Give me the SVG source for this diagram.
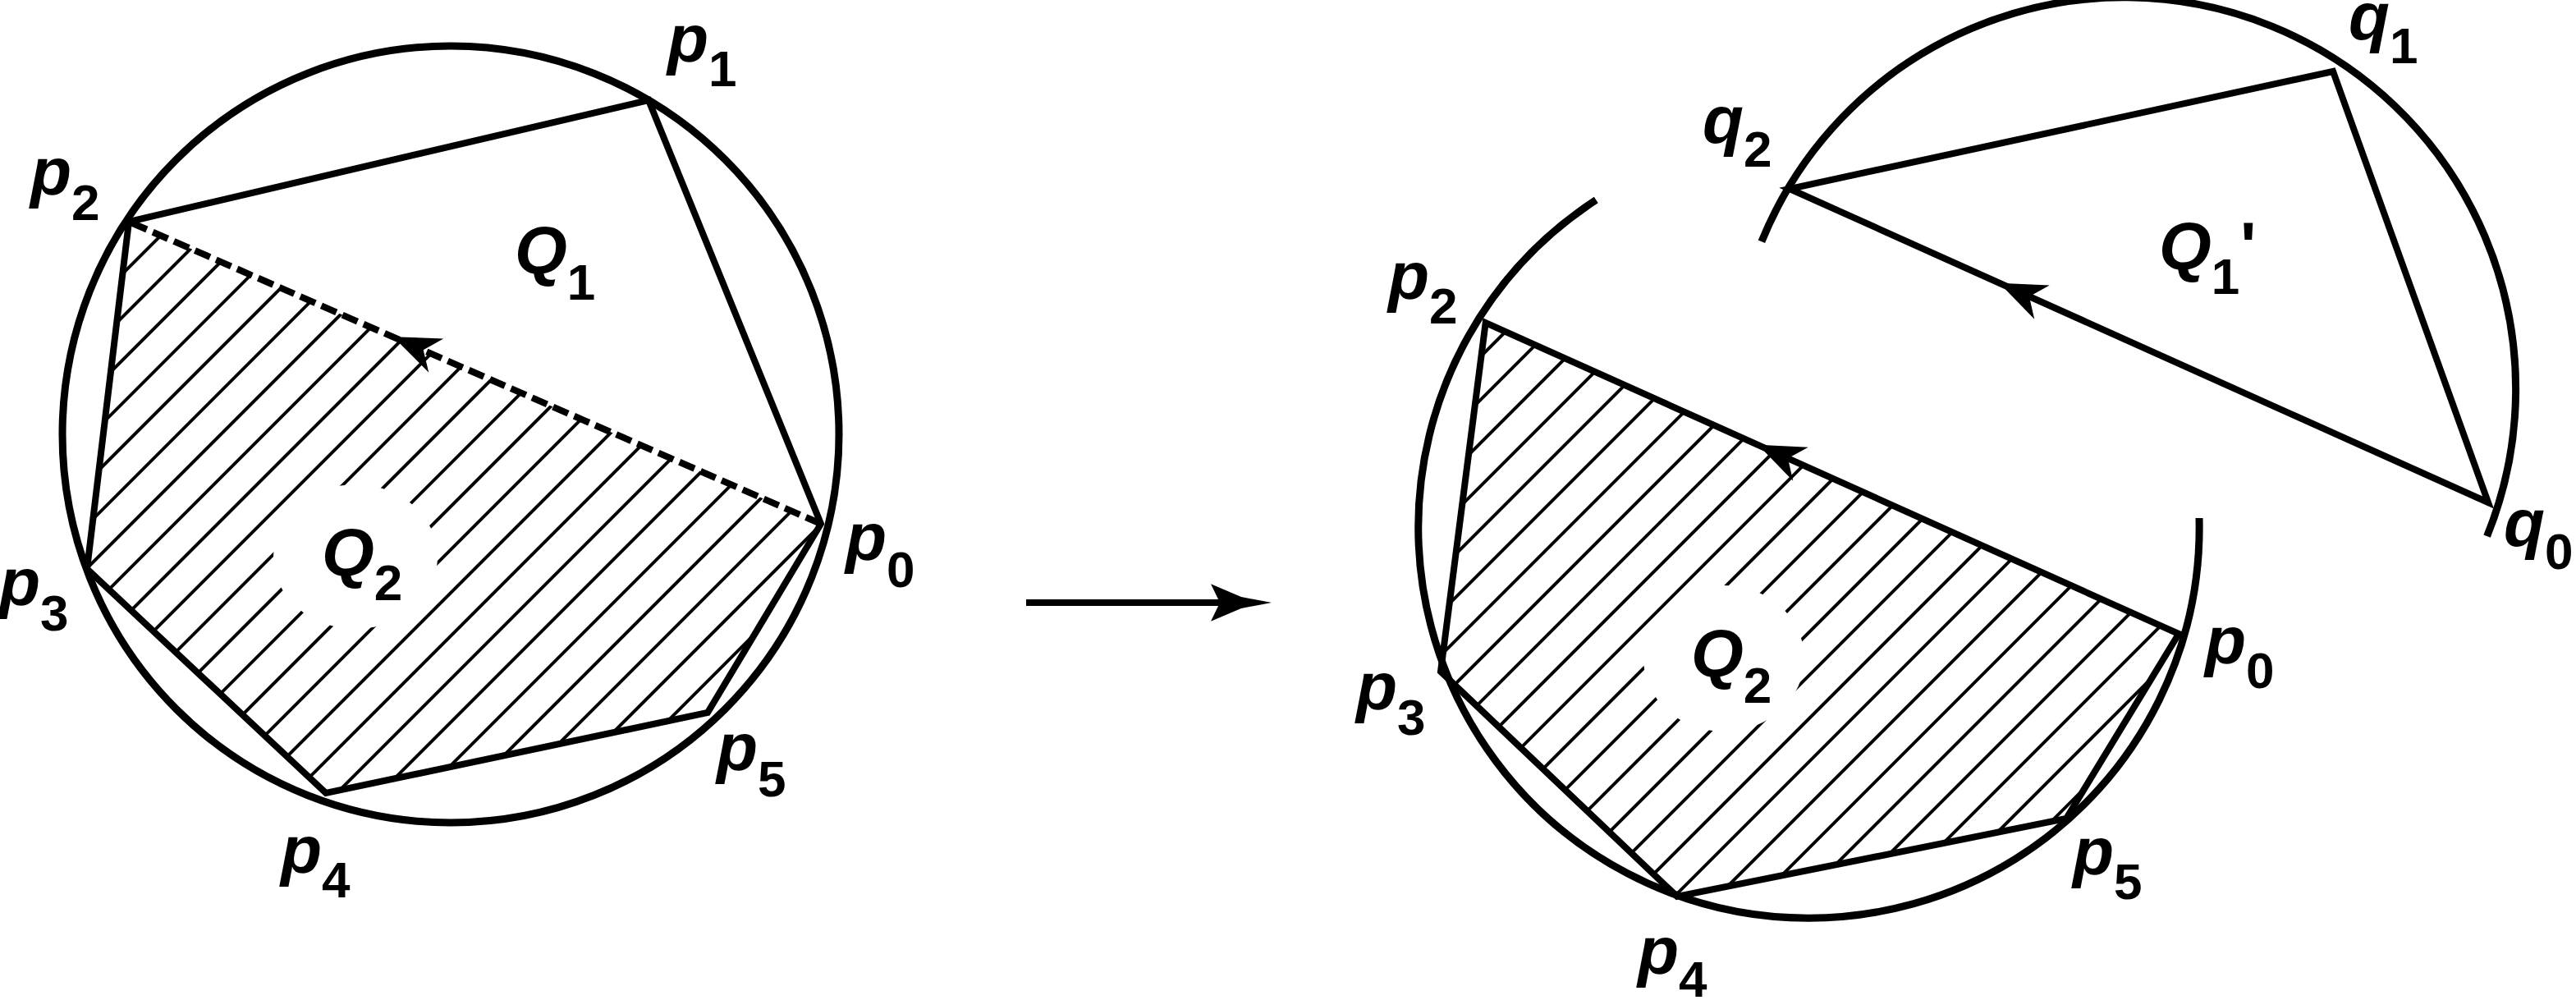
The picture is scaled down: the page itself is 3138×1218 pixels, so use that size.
<svg xmlns="http://www.w3.org/2000/svg" width="3138" height="1218" viewBox="0 0 3138 1218">
<style>
.ln{fill:none;stroke:#000;stroke-width:8;stroke-linejoin:miter;stroke-miterlimit:10}
.arc{fill:none;stroke:#000;stroke-width:9}
.dash{stroke-dasharray:20 8}
.carrier{fill:none;stroke:none}
.lbl{font-family:"Liberation Sans",Arial,sans-serif;font-weight:bold;font-style:italic;font-size:82px;fill:#000}
.sub{font-size:62px;font-style:normal}
.up{font-style:normal}
.gap{fill:#fff;stroke:none}
</style>
<defs>
<pattern id="hatchL" patternUnits="userSpaceOnUse" width="100" height="37.166" patternTransform="rotate(-45)">
<line x1="-5" y1="6.83" x2="105" y2="6.83" stroke="#000" stroke-width="3.8"/>
</pattern>
<pattern id="hatchR" patternUnits="userSpaceOnUse" width="100" height="37.166" patternTransform="rotate(-45)">
<line x1="-5" y1="21.57" x2="105" y2="21.57" stroke="#000" stroke-width="3.8"/>
</pattern>
<marker id="midArrow" markerUnits="userSpaceOnUse" viewBox="-62 -26 66 52" refX="0" refY="0" markerWidth="66" markerHeight="52" orient="auto" overflow="visible">
<path d="M0,0 L-57,-22.5 L-40,0 L-57,22.5 Z" fill="#000"/>
</marker>
<marker id="bigArrow" markerUnits="userSpaceOnUse" viewBox="-80 -26 84 52" refX="-54" refY="0" markerWidth="84" markerHeight="52" orient="auto" overflow="visible">
<path d="M0,0 L-37,-7 L-74,-22.7 L-63,0 L-74,22.7 L-37,7 Z" fill="#000"/>
</marker>
</defs>
<rect width="3138" height="1218" fill="#fff"/>

<g id="left-figure">
<g id="left-Q2-hatch">
<polygon points="157,270 106,693 397,966 862,868 1000,638" fill="url(#hatchL)"/>
<ellipse class="gap" cx="433" cy="678" rx="100" ry="88"/>
</g>
<circle id="left-circle" class="arc" cx="549" cy="529" r="473"/>
<path id="left-polygon" class="ln" d="M1000,638 L790,122 L157,270 L106,693 L397,966 L862,868 Z"/>
<g id="left-chord">
<path class="ln dash" d="M1000,638 L157,270"/>
<path class="carrier" d="M488.2,414.3 L479,410.3" marker-end="url(#midArrow)"/>
</g>
<g id="left-labels">
<text class="lbl" x="813" y="75">p<tspan class="sub" dy="30">1</tspan></text>
<text class="lbl" x="37" y="237">p<tspan class="sub" dy="31">2</tspan></text>
<text class="lbl" x="627" y="333">Q<tspan class="sub" dy="32">1</tspan></text>
<text class="lbl" x="1030" y="682">p<tspan class="sub" dy="33">0</tspan></text>
<text class="lbl" x="392" y="701">Q<tspan class="sub" dy="30">2</tspan></text>
<text class="lbl" x="-1" y="737">p<tspan class="sub" dy="31">3</tspan></text>
<text class="lbl" x="342" y="1063">p<tspan class="sub" dy="30">4</tspan></text>
<text class="lbl" x="873" y="938">p<tspan class="sub" dy="32">5</tspan></text>
</g>
</g>

<g id="connectors">
<path class="ln" d="M1250,734 L1495,734" marker-end="url(#bigArrow)"/>
</g>

<g id="right-lower-figure">
<g id="right-Q2-hatch">
<polygon points="1809.7,393 1755,818 2043,1092 2517,997 2654,772" fill="url(#hatchR)"/>
<ellipse class="gap" cx="2100" cy="802" rx="98" ry="89"/>
</g>
<path id="right-lower-arc" class="arc" d="M2679,631 A475.7,475.7 0 1 1 1944.3,243.6"/>
<path id="right-lower-polygon" class="ln" d="M2654,772 L1809.7,393 L1755,818 L2043,1092 L2517,997 Z"/>
<path class="carrier" d="M2150.6,545.9 L2141.5,541.8" marker-end="url(#midArrow)"/>
<g id="right-lower-labels">
<text class="lbl" x="1691" y="364">p<tspan class="sub" dy="30">2</tspan></text>
<text class="lbl" x="1652" y="864">p<tspan class="sub" dy="31">3</tspan></text>
<text class="lbl" x="2060" y="824">Q<tspan class="sub" dy="32">2</tspan></text>
<text class="lbl" x="2686" y="808">p<tspan class="sub" dy="30">0</tspan></text>
<text class="lbl" x="2525" y="1065">p<tspan class="sub" dy="30">5</tspan></text>
<text class="lbl" x="1995" y="1186">p<tspan class="sub" dy="28">4</tspan></text>
</g>
</g>

<g id="right-upper-figure">
<path id="right-upper-arc" class="arc" d="M2145.9,294.3 A476.5,476.5 0 0 1 3029.6,653.1"/>
<path id="right-upper-polygon" class="ln" d="M3031,612 L2180,230 L2842,87 Z"/>
<path class="carrier" d="M2444.6,348.8 L2435.5,344.7" marker-end="url(#midArrow)"/>
<g id="right-upper-labels">
<text class="lbl" x="2861" y="48">q<tspan class="sub" dy="29">1</tspan></text>
<text class="lbl" x="2074" y="174">q<tspan class="sub" dy="29">2</tspan></text>
<text class="lbl" x="3050" y="665">q<tspan class="sub" dy="28">0</tspan></text>
<text class="lbl" x="2630" y="328">Q<tspan class="sub" dy="30">1</tspan><tspan class="up" x="2729" dy="-30">'</tspan></text>
</g>
</g>
</svg>
